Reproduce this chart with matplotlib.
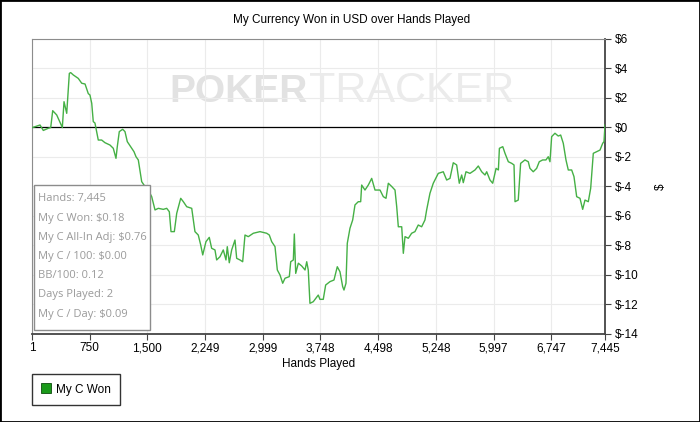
import matplotlib.pyplot as plt
from matplotlib.patches import Rectangle
from matplotlib.lines import Line2D

# hands played vs. cumulative winnings
hands = [1, 10, 105, 148, 213, 244, 270, 322, 395, 417, 452, 486, 504, 538, 602, 647, 690,
         732, 754, 777, 797, 819, 841, 862, 906, 949, 1014, 1057, 1092, 1109, 1135, 1179,
         1209, 1239, 1283, 1326, 1352, 1382, 1426, 1469, 1512, 1556, 1599, 1642, 1707, 1751,
         1785, 1807, 1850, 1881, 1933, 1967, 2011, 2076, 2118, 2161, 2193, 2219, 2261, 2304,
         2335, 2378, 2400, 2443, 2486, 2521, 2538, 2564, 2595, 2638, 2660, 2703, 2738, 2768,
         2811, 2876, 2963, 3050, 3084, 3115, 3158, 3188, 3223, 3258, 3288, 3344, 3362, 3396,
         3409, 3427, 3461, 3505, 3548, 3570, 3590, 3612, 3655, 3720, 3742, 3785, 3816, 3872,
         3924, 3967, 4002, 4037, 4054, 4080, 4097, 4132, 4167, 4197, 4240, 4271, 4284, 4327,
         4370, 4414, 4457, 4522, 4565, 4600, 4630, 4674, 4717, 4739, 4760, 4804, 4825, 4847,
         4890, 4933, 4976, 5019, 5063, 5106, 5128, 5171, 5214, 5279, 5344, 5388, 5431, 5474,
         5518, 5552, 5583, 5604, 5639, 5691, 5756, 5799, 5843, 5886, 5908, 5951, 5986, 6030,
         6060, 6073, 6117, 6146, 6189, 6233, 6263, 6276, 6318, 6349, 6405, 6448, 6470, 6513,
         6557, 6591, 6635, 6678, 6708, 6730, 6752, 6795, 6838, 6869, 6903, 6938, 6968, 7012,
         7042, 7077, 7120, 7155, 7185, 7228, 7259, 7293, 7337, 7380, 7415, 7432, 7445]
won = [0.0, 0.0, 0.17, -0.2, -0.05, 0.0, 1.14, 0.85, 0.0, 1.75, 0.96, 3.67, 3.72, 3.56, 3.33,
       3.0, 2.95, 2.3, 2.2, 1.64, 0.4, 0.3, -0.28, -0.85, -0.85, -1.03, -1.19, -1.41, -2.09,
       -1.3, -0.28, -0.12, -0.28, -0.96, -1.3, -1.64, -1.98, -2.2, -3.67, -4.0, -4.24, -4.69,
       -5.59, -5.48, -5.55, -5.48, -5.71, -7.06, -7.06, -5.82, -4.8, -5.03, -5.37, -5.48,
       -7.06, -7.29, -7.97, -8.64, -7.74, -7.45, -8.19, -8.3, -8.98, -8.76, -8.3, -8.98,
       -8.08, -9.17, -8.3, -7.63, -8.87, -8.98, -9.1, -7.29, -7.4, -7.17, -7.06, -7.17,
       -7.29, -7.74, -8.08, -9.66, -10.0, -10.56, -10.22, -10.11, -9.1, -8.98, -7.22, -9.89,
       -9.2, -9.39, -9.66, -9.1, -9.66, -11.92, -11.81, -11.36, -11.65, -11.65, -10.68,
       -10.45, -10.34, -9.44, -9.78, -10.79, -11.02, -10.56, -7.85, -6.83, -6.27, -5.25,
       -5.03, -5.03, -3.9, -4.24, -3.9, -3.45, -4.24, -4.24, -4.69, -4.8, -3.78, -4.0, -4.24,
       -5.37, -6.73, -6.73, -8.53, -7.4, -7.51, -7.17, -7.06, -6.61, -6.73, -6.27, -5.59,
       -4.46, -3.78, -3.11, -3.0, -3.56, -3.45, -2.39, -2.54, -3.78, -3.22, -3.74, -3.0,
       -3.11, -2.88, -2.61, -3.0, -3.22, -3.0, -3.56, -3.78, -2.77, -2.88, -1.41, -1.3,
       -1.75, -2.32, -2.43, -2.54, -5.03, -4.92, -2.43, -2.2, -2.32, -2.77, -3.0, -2.77,
       -2.32, -2.2, -2.2, -1.98, -2.32, -0.62, -0.39, -0.58, -0.51, -1.07, -2.2, -2.88,
       -2.88, -3.33, -4.69, -4.8, -5.55, -4.92, -5.03, -4.12, -1.75, -1.64, -1.53, -1.07,
       -0.96, 0.18]

xticks = [1, 750, 1500, 2249, 2999, 3748, 4498, 5248, 5997, 6747, 7445]
yticks = [-14, -12, -10, -8, -6, -4, -2, 0, 2, 4, 6]
stats = ["Hands: 7,445", "My C Won: $0.18", "My C All-In Adj: $0.76", "My C / 100: $0.00",
         "BB/100: 0.12", "Days Played: 2", "My C / Day: $0.09"]

plt.rcParams['font.family'] = ['Liberation Sans', 'DejaVu Sans']

fig = plt.figure(figsize=(7, 4.22), dpi=100)
ax = fig.add_axes([32/700, 1-334/422, 573/700, 295/422])

# watermark
ax.text(0.482, 0.786, "POKER", transform=ax.transAxes, ha='right', va='baseline',
        fontsize=28, fontweight='bold', color='#e2e2e2', zorder=0)
ax.text(0.484, 0.786, "TRACKER", transform=ax.transAxes, ha='left', va='baseline',
        fontsize=31, color='#ebebeb', zorder=0)

ax.plot(hands, won, color='#45b045', lw=1.0, zorder=3)
ax.axhline(0, color='black', lw=0.9, zorder=2)

ax.set_xlim(1, 7445)
ax.set_ylim(-14, 6)
ax.set_xticks(xticks)
ax.set_xticklabels([f"{t:,}" for t in xticks])
ax.set_yticks(yticks)
ax.set_yticklabels([f"${t}" for t in yticks])
ax.yaxis.tick_right()
ax.yaxis.set_label_position('right')
ax.grid(True, color='#ebebeb', lw=0.8)
ax.set_axisbelow(True)
ax.tick_params(labelsize=8.5, length=4, color='#444444', pad=2)
ax.tick_params(axis='y', pad=3)

for s in ['top', 'left']:
    ax.spines[s].set_color('#8c8c8c')
for s in ['bottom', 'right']:
    ax.spines[s].set_color('#444444')
    ax.spines[s].set_linewidth(1.3)

ax.set_xlabel("Hands Played", fontsize=8.5, labelpad=3)
ax.set_ylabel("$", fontsize=8.5, rotation=90, labelpad=12)
fig.text(352/700, 1-20/422, "My Currency Won in USD over Hands Played", ha='center',
         va='center', fontsize=8.5)

# stats box
ax.add_patch(Rectangle((34/700, 1-330/422), 116/700, 145/422, transform=fig.transFigure,
                       facecolor='white', edgecolor='#8c8c8c', lw=1, zorder=5))
for i, s in enumerate(stats):
    fig.text(38/700, 1-(199+i*19.2)/422, s, ha='left', va='center', fontsize=8,
             color='#9a9a9a', family=['Open Sans', 'DejaVu Sans'], zorder=6)

# legend
leg_handle = Line2D([], [], marker='s', ls='none', markersize=7, markerfacecolor='#1a9a1a',
                    markeredgecolor='#0d4d0d', markeredgewidth=0.6)
leg = fig.legend([leg_handle], ["My C Won"], loc='lower left',
                 bbox_to_anchor=(32/700, 1-405/422), fontsize=8.5, fancybox=False,
                 edgecolor='#333333', handlelength=0.8, handletextpad=0.4,
                 borderpad=0.8, borderaxespad=0, framealpha=1)
leg.get_frame().set_linewidth(1)

# outer border
fig.add_artist(Rectangle((0, 0), 1, 1, transform=fig.transFigure, fill=False,
                         edgecolor='black', lw=2))

fig.savefig("out.png", dpi=100)
